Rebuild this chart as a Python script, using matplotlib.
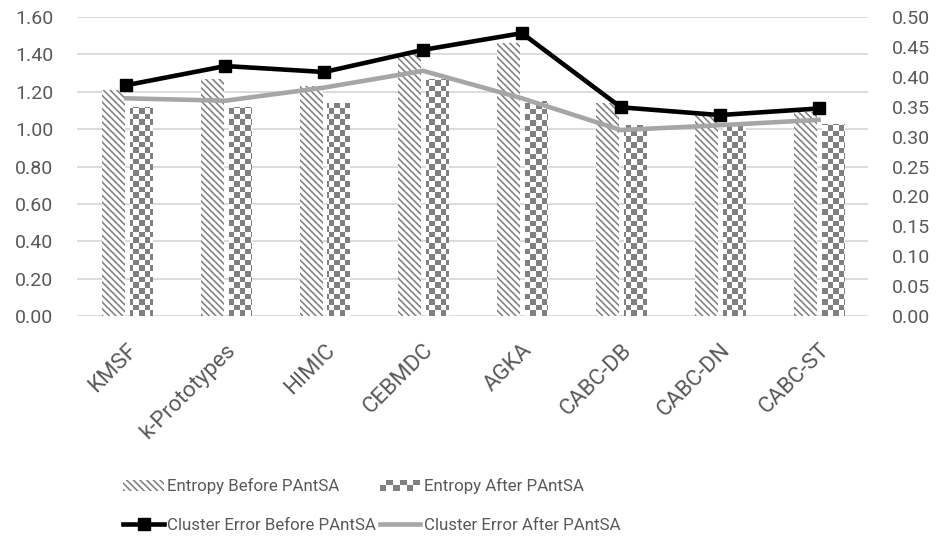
import numpy as np
import matplotlib
matplotlib.use("Agg")
import matplotlib.pyplot as plt
from matplotlib.patches import Rectangle
from matplotlib.colors import ListedColormap
from matplotlib.legend_handler import HandlerBase

categories = ["KMSF", "k-Prototypes", "HIMIC", "CEBMDC", "AGKA", "CABC-DB", "CABC-DN", "CABC-ST"]
entropy_before = [1.21, 1.27, 1.23, 1.40, 1.46, 1.14, 1.08, 1.09]
entropy_after = [1.12, 1.12, 1.14, 1.27, 1.15, 1.02, 1.03, 1.03]
error_before = [0.386, 0.418, 0.408, 0.445, 0.473, 0.349, 0.336, 0.347]
error_after = [0.364, 0.360, 0.382, 0.410, 0.364, 0.311, 0.319, 0.328]
left_ticks = [0.0, 0.2, 0.4, 0.6, 0.8, 1.0, 1.2, 1.4, 1.6]
right_ticks = [0.0, 0.05, 0.10, 0.15, 0.20, 0.25, 0.30, 0.35, 0.40, 0.45, 0.50]

FONT = "Roboto"
TXT = "#595959"
GRAY = "#808080"
plt.rcParams["font.family"] = [FONT, "DejaVu Sans"]
plt.rcParams["hatch.linewidth"] = 1.15

W, H = 940, 546
fig = plt.figure(figsize=(W / 100, H / 100), dpi=100)
L, R, T, B = 77, 868, 17, 316
ax = fig.add_axes([L / W, 1 - B / H, (R - L) / W, (B - T) / H])

x = np.arange(len(categories))
bw = 0.232
bars_b = ax.bar(x - 0.133, entropy_before, bw, facecolor="white", edgecolor=GRAY,
                linewidth=0, hatch="\\\\\\\\\\", zorder=2)
bars_a = ax.bar(x + 0.149, entropy_after, bw, facecolor="white", edgecolor="none",
                linewidth=0, zorder=2)

# checkerboard fill for "after" bars
sq = 5.6
nx = int((R - L) / sq) + 1
ny = int((B - T) / sq) + 1
cb = (np.add.outer(np.arange(ny), np.arange(nx)) % 2).astype(float)
cmap = ListedColormap(["white", GRAY])
for bar in bars_a:
    im = ax.imshow(cb, cmap=cmap, origin="lower", extent=[0, nx * sq / (R - L), 0, ny * sq / (B - T)],
                   transform=ax.transAxes, interpolation="nearest", aspect="auto", zorder=2.5)
    im.set_clip_path(bar)

ax.set_xlim(-0.5, len(categories) - 0.5)
ax.set_ylim(0, 1.6)
ax.set_yticks(left_ticks)
ax.set_yticklabels([f"{v:.2f}" for v in left_ticks])
ax.set_axisbelow(True)
ax.yaxis.grid(True, color="#d9d9d9", linewidth=1.3)
for s in ax.spines.values():
    s.set_visible(False)
ax.tick_params(axis="both", length=0, labelcolor=TXT, labelsize=14)
ax.tick_params(axis="y", pad=17)
ax.set_xticks(x)
ax.set_xticklabels(categories, rotation=45, ha="right", va="top", rotation_mode="anchor")
ax.tick_params(axis="x", pad=17, labelsize=16)

ax2 = ax.twinx()
ax2.set_position(ax.get_position())
ln_b, = ax2.plot(x, error_before, color="black", linewidth=3.3, marker="s", markersize=9,
                 solid_joinstyle="round", zorder=4)
ln_a, = ax2.plot(x, error_after, color="#a6a6a6", linewidth=3.3, solid_joinstyle="round", zorder=3)
ax2.set_ylim(0, 0.5)
ax2.set_yticks(right_ticks)
ax2.set_yticklabels([f"{v:.2f}" for v in right_ticks])
for s in ax2.spines.values():
    s.set_visible(False)
ax2.tick_params(axis="y", length=0, labelcolor=TXT, labelsize=14, pad=17)


class CheckerHandler(HandlerBase):
    def create_artists(self, legend, orig_handle, xdescent, ydescent, width, height, fontsize, trans):
        arts = []
        n, m = 6, 2
        w, h = width / n, height / m
        for i in range(n):
            for j in range(m):
                c = GRAY if (i + j) % 2 == 0 else "white"
                arts.append(Rectangle((-xdescent + i * w, -ydescent + j * h), w, h,
                                      facecolor=c, edgecolor="none", transform=trans))
        return arts


handles = [bars_b, ln_b, bars_a, ln_a]
labels = ["Entropy Before PAntSA", "Cluster Error Before PAntSA",
          "Entropy After PAntSA", "Cluster Error After PAntSA"]
leg = fig.legend(handles, labels, ncol=2, loc="upper left", bbox_to_anchor=(108 / W, 1 - 463 / H),
                 frameon=False, fontsize=12.2, handlelength=2.4, handletextpad=0.2,
                 columnspacing=0.2, labelspacing=1.4, handleheight=0.6,
                 handler_map={bars_a: CheckerHandler()})
for t in leg.get_texts():
    t.set_color(TXT)

fig.savefig("out.png", dpi=100)
